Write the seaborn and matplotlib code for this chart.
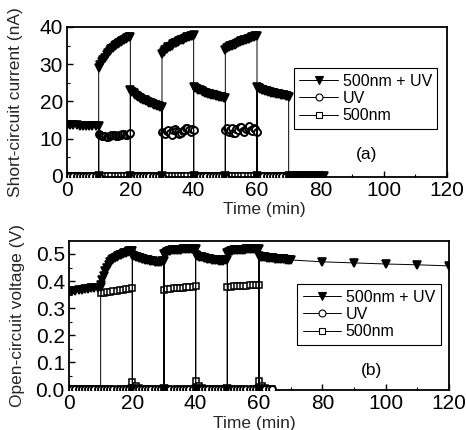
import matplotlib
matplotlib.use("Agg")
import matplotlib.pyplot as plt
from matplotlib.ticker import MultipleLocator
import seaborn as sns


def minutes(start, stop):
    # one reading per minute, both ends included
    return list(range(start, stop + 1))


def half_minutes(start, stop):
    # one reading every 30 s while a light is on, both ends included
    return [start + 0.5 * k for k in range(int(2 * (stop - start)) + 1)]


# -----------------------------
# Panel (a): short-circuit current (nA)
# -----------------------------
A_MIX_TIME = (minutes(0, 10) + [10] + half_minutes(10, 20) + [20] + half_minutes(20, 30)
              + [30] + half_minutes(30, 40) + [40] + half_minutes(40, 50) + [50]
              + half_minutes(50, 60) + [60] + half_minutes(60, 70) + minutes(70, 81))
A_MIX = ([13.8, 13.7, 13.6, 13.6, 13.5, 13.5, 13.5, 13.4, 13.4, 13.4, 13.4]
         + [0.0]
         + [29.0, 29.8, 30.5, 31.2, 31.8, 32.4, 33.0, 33.5, 34.0, 34.4, 34.8,
            35.2, 35.5, 35.8, 36.0, 36.3, 36.5, 36.8, 37.0, 37.2, 37.3]
         + [0.0]
         + [23.0, 22.6, 22.2, 21.8, 21.5, 21.2, 21.0, 20.7, 20.5, 20.3, 20.1,
            19.9, 19.7, 19.5, 19.3, 19.1, 19.0, 18.8, 18.7, 18.5, 18.4]
         + [0.0]
         + [32.8, 33.4, 33.8, 34.2, 34.5, 34.6, 35.0, 35.4, 35.6, 35.7, 36.0,
            36.3, 36.4, 36.5, 36.8, 37.1, 37.2, 37.3, 37.5, 37.7, 37.8]
         + [0.0]
         + [24.0, 23.7, 23.4, 23.2, 23.0, 22.8, 22.6, 22.4, 22.3, 22.1, 22.0,
            21.8, 21.7, 21.6, 21.5, 21.4, 21.3, 21.2, 21.1, 20.9, 20.8]
         + [0.0]
         + [33.8, 34.3, 34.6, 34.9, 35.0, 35.1, 35.2, 35.5, 35.8, 36.0, 36.2,
            36.3, 36.4, 36.6, 36.8, 36.9, 37.0, 37.2, 37.3, 37.5, 37.6]
         + [0.0]
         + [23.8, 23.5, 23.3, 23.1, 23.0, 22.8, 22.7, 22.6, 22.5, 22.4, 22.3,
            22.2, 22.1, 22.0, 21.9, 21.8, 21.7, 21.6, 21.5, 21.4, 21.3]
         + [0.0] * 12)

A_UV_TIME = (minutes(0, 10) + half_minutes(10, 20) + minutes(20, 30) + half_minutes(30, 40)
             + minutes(40, 50) + half_minutes(50, 60) + minutes(60, 80))
A_UV = ([0.0] * 11
        + [11.2, 11.0, 10.8, 10.6, 10.6, 10.5, 10.5, 10.7, 10.9, 11.0, 11.0,
           10.8, 10.7, 10.9, 11.0, 11.2, 11.3, 11.1, 11.0, 11.2, 11.4]
        + [0.0] * 11
        + [11.8, 11.4, 11.2, 12.0, 12.2, 11.4, 11.0, 12.2, 12.6, 12.0, 11.8,
           11.3, 11.4, 12.0, 12.4, 12.9, 12.8, 12.2, 11.9, 12.6, 12.4]
        + [0.0] * 11
        + [12.2, 12.9, 11.8, 12.4, 12.8, 11.6, 11.4, 12.6, 12.3, 13.2, 13.2,
           12.0, 11.9, 12.6, 12.8, 13.4, 12.4, 12.0, 12.9, 12.6, 11.9]
        + [0.0] * 21)

A_VIS_TIME = minutes(0, 80)
A_VIS = [0.0] * 81

# -----------------------------
# Panel (b): open-circuit voltage (V)
# -----------------------------
B_MIX_TIME = (minutes(0, 10) + half_minutes(10, 20) + [20] + half_minutes(20, 30) + [30]
              + half_minutes(30, 40) + [40] + half_minutes(40, 50) + [50]
              + half_minutes(50, 60) + [60] + half_minutes(60, 70) + [80, 90, 100, 110, 120])
B_MIX = ([0.360, 0.362, 0.364, 0.366, 0.368, 0.370, 0.372, 0.373, 0.375, 0.376, 0.378]
         + [0.385, 0.405, 0.420, 0.437, 0.450, 0.461, 0.470, 0.476, 0.480, 0.485, 0.490,
            0.493, 0.495, 0.498, 0.500, 0.503, 0.505, 0.507, 0.510, 0.511, 0.512]
         + [0.0]
         + [0.495, 0.492, 0.490, 0.488, 0.486, 0.484, 0.482, 0.480, 0.479, 0.477, 0.476,
            0.475, 0.474, 0.473, 0.472, 0.471, 0.471, 0.471, 0.472, 0.473, 0.474]
         + [0.0]
         + [0.500, 0.505, 0.508, 0.510, 0.512, 0.513, 0.514, 0.515, 0.515, 0.516, 0.516,
            0.516, 0.517, 0.517, 0.517, 0.517, 0.518, 0.518, 0.518, 0.518, 0.518]
         + [0.0]
         + [0.495, 0.492, 0.490, 0.488, 0.487, 0.485, 0.484, 0.482, 0.481, 0.480, 0.479,
            0.478, 0.477, 0.476, 0.476, 0.475, 0.475, 0.475, 0.476, 0.477, 0.478]
         + [0.0]
         + [0.505, 0.508, 0.510, 0.512, 0.513, 0.514, 0.515, 0.515, 0.516, 0.516, 0.516,
            0.516, 0.517, 0.517, 0.517, 0.517, 0.517, 0.518, 0.518, 0.518, 0.518]
         + [0.0]
         + [0.492, 0.490, 0.489, 0.488, 0.487, 0.486, 0.485, 0.485, 0.484, 0.484, 0.483,
            0.483, 0.482, 0.482, 0.481, 0.481, 0.480, 0.479, 0.479, 0.478, 0.478]
         + [0.471, 0.467, 0.463, 0.460, 0.456])

B_UV_TIME = minutes(0, 64)
B_UV = [0.0] * 65

B_VIS_TIME = (minutes(0, 10) + minutes(10, 20) + minutes(20, 30) + minutes(30, 40)
              + minutes(40, 50) + minutes(50, 60) + minutes(60, 64))
B_VIS = ([0.0] * 11
         + [0.355, 0.357, 0.359, 0.361, 0.363, 0.364, 0.366, 0.367, 0.369, 0.370, 0.374]
         + [0.025, 0.012, 0.005, 0.0, 0.0, 0.0, 0.0, 0.0, 0.0, 0.0, 0.0]
         + [0.368, 0.370, 0.371, 0.373, 0.374, 0.375, 0.376, 0.377, 0.378, 0.379, 0.380]
         + [0.030, 0.012, 0.005, 0.0, 0.0, 0.0, 0.0, 0.0, 0.0, 0.0, 0.0]
         + [0.378, 0.379, 0.380, 0.381, 0.382, 0.383, 0.383, 0.384, 0.384, 0.385, 0.385]
         + [0.030, 0.012, 0.004, 0.0, 0.0])

LEGEND_ORDER = ["500nm + UV", "UV", "500nm"]

# -----------------------------
# Theme
# -----------------------------
sns.set_theme(style="ticks")
plt.rcParams["font.family"] = ["Liberation Sans", "DejaVu Sans"]
plt.rcParams.update({
    "xtick.direction": "in", "ytick.direction": "in",
    "xtick.major.size": 4, "ytick.major.size": 4,
    "xtick.minor.size": 2.5, "ytick.minor.size": 2.5,
    "xtick.major.width": 1.0, "ytick.major.width": 1.0,
    "xtick.minor.width": 0.8, "ytick.minor.width": 0.8,
    "axes.edgecolor": "black", "axes.linewidth": 1.3,
    "text.color": "black", "xtick.color": "black", "ytick.color": "black",
})

fig = plt.figure(figsize=(4.66, 4.30), dpi=100)
ax_a = fig.add_axes([67 / 466, 1 - 177 / 430, 380 / 466, 150 / 430])
ax_b = fig.add_axes([69 / 466, 1 - 390 / 430, 380 / 466, 149 / 430])

line_kw = dict(estimator=None, sort=False, color="black", lw=0.7, mec="black")


def draw_series(ax, mix_t, mix, uv_t, uv, vis_t, vis):
    sns.lineplot(x=vis_t, y=vis, ax=ax, marker="s", ms=4.2, mfc="white", mew=1.1,
                 label="500nm", zorder=2, **line_kw)
    sns.lineplot(x=uv_t, y=uv, ax=ax, marker="o", ms=5.0, mfc="white", mew=1.4,
                 label="UV", zorder=3, **line_kw)
    sns.lineplot(x=mix_t, y=mix, ax=ax, marker="v", ms=6.0, mfc="black", mew=1.2,
                 label="500nm + UV", zorder=4, **line_kw)


def style_panel(ax, ylabel, ylim, ymajor, yfmt, tag, leg_xy, tag_xy, xlab_x, xlab_y):
    ax.set_xlim(0, 120)
    ax.set_ylim(*ylim)
    ax.xaxis.set_major_locator(MultipleLocator(20))
    ax.xaxis.set_minor_locator(MultipleLocator(10))
    ax.yaxis.set_major_locator(MultipleLocator(ymajor))
    ax.yaxis.set_minor_locator(MultipleLocator(ymajor / 2))
    ax.yaxis.set_major_formatter(yfmt)
    ax.tick_params(which="both", top=False, right=False)
    ax.tick_params(which="major", labelsize=15, pad=3)
    ax.set_ylabel(ylabel, fontsize=12.5)
    ax.yaxis.set_label_coords(-0.115, 0.5)
    ax.set_xlabel("Time (min)", fontsize=12.5, va="top")
    ax.xaxis.set_label_coords(xlab_x, xlab_y)

    handles, labels = ax.get_legend_handles_labels()
    by_label = dict(zip(labels, handles))
    leg = ax.legend([by_label[k] for k in LEGEND_ORDER], LEGEND_ORDER,
                    loc="upper left", bbox_to_anchor=leg_xy, borderaxespad=0,
                    frameon=True, fancybox=False, framealpha=1, edgecolor="black",
                    fontsize=11.5, handlelength=2.4, handletextpad=0.3,
                    labelspacing=0.15, borderpad=0.35)
    leg.get_frame().set_linewidth(0.8)
    # thinner marker edges in the legend keys, as in the printed figure
    for line in leg.get_lines():
        line.set_markeredgewidth(0.8)
    ax.text(tag_xy[0], tag_xy[1], tag, transform=ax.transAxes, fontsize=12.5,
            ha="center", va="center")


draw_series(ax_a, A_MIX_TIME, A_MIX, A_UV_TIME, A_UV, A_VIS_TIME, A_VIS)
style_panel(ax_a, "Short-circuit current (nA)", (-0.3, 40), 10, "{x:.0f}", "(a)",
            (0.597, 0.727), (0.789, 0.147), 0.518, -0.165)

draw_series(ax_b, B_MIX_TIME, B_MIX, B_UV_TIME, B_UV, B_VIS_TIME, B_VIS)
style_panel(ax_b, "Open-circuit voltage (V)", (-0.003, 0.548), 0.1, "{x:.1f}", "(b)",
            (0.60, 0.711), (0.797, 0.134), 0.487, -0.175)

fig.savefig("out.png", dpi=100)
